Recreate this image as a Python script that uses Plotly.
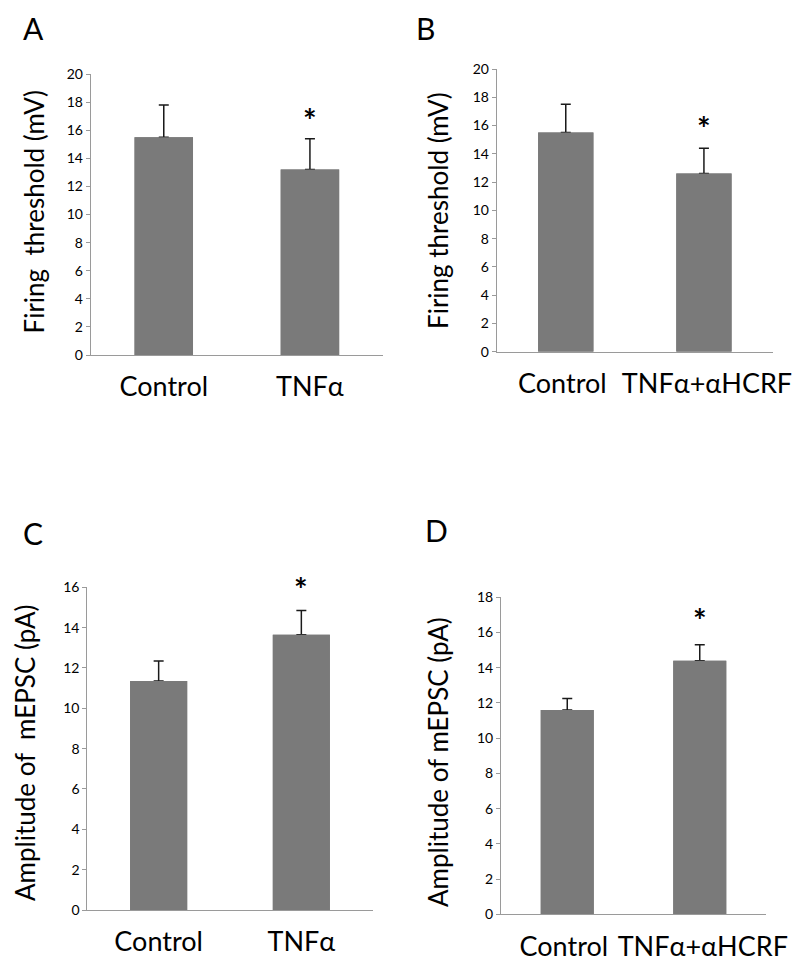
import plotly.graph_objects as go

# ---- data ----
cats_A = ["Control", "TNFα"]
mean_A = [15.5, 13.2]
err_A = [2.3, 2.2]
star_A = [None, 17.1]
labels_A = ["Control", "TNFα"]

cats_B = ["Control", "TNFα+αHCRF"]
mean_B = [15.5, 12.6]
err_B = [2.0, 1.8]
star_B = [None, 16.25]
labels_B = ["Control\u00a0", "\u00a0TNFα+αHCRF"]

cats_C = ["Control", "TNFα"]
mean_C = [11.35, 13.65]
err_C = [1.0, 1.2]
star_C = [None, 16.2]
labels_C = ["Control", "TNFα"]

cats_D = ["Control", "TNFα+αHCRF"]
mean_D = [11.6, 14.4]
err_D = [0.65, 0.9]
star_D = [None, 17.0]
labels_D = ["Control\u00a0", "\u00a0TNFα+αHCRF"]

ytitles = ["Firing\u00a0\u00a0threshold (mV)", "Firing threshold (mV)",
           "Amplitude of\u00a0\u00a0mEPSC (pA)", "Amplitude of mEPSC (pA)"]
letters = ["A", "B", "C", "D"]
yranges = [20, 20, 16, 18]

OFF = 8  # page body margin
W, H = 800 - OFF, 969 - OFF
FONT = "Lato"
BAR = "#7a7a7a"

# panel geometry in screen pixels: x0, x1, ytop, ybottom
geo = [(90.7, 383, 74, 355), (496.7, 773, 69, 351.7),
       (87.3, 372.7, 587.3, 910), (501, 766, 597.3, 914.3)]
title_pos = [(33, 212.5), (438, 211), (25, 753), (438, 762)]
letter_pos = [(33, 28), (425, 28), (33, 533), (437, 530)]

def px(x):
    return (x - OFF) / W

def py(y):
    return 1 - (y - OFF) / H

panels = [(cats_A, mean_A, err_A, star_A, labels_A), (cats_B, mean_B, err_B, star_B, labels_B),
          (cats_C, mean_C, err_C, star_C, labels_C), (cats_D, mean_D, err_D, star_D, labels_D)]

fig = go.Figure()
annotations = []
for i, (cats, mean, err, star, labels) in enumerate(panels):
    n = "" if i == 0 else str(i + 1)
    # bars carrying the error bars
    fig.add_trace(go.Bar(
        x=cats, y=mean, width=0.4, marker=dict(color=BAR, line=dict(width=0)),
        error_y=dict(type="data", array=err, arrayminus=[0] * len(err),
                     symmetric=False, color="#1a1a1a", thickness=1.5, width=5),
        xaxis="x" + n, yaxis="y" + n, showlegend=False, hoverinfo="skip"))
    # same bars on top, hiding the lower whisker inside the bar
    fig.add_trace(go.Bar(
        x=cats, y=mean, width=0.4, marker=dict(color=BAR, line=dict(width=0)),
        xaxis="x" + n, yaxis="y" + n, showlegend=False))
    x0, x1, yt, yb = geo[i]
    fig.layout["xaxis" + n] = dict(
        domain=[px(x0), px(x1)], anchor="y" + n, showline=True, linecolor="#9a9a9a",
        linewidth=1, ticks="", showgrid=False, range=[-0.5, 1.5], automargin=False,
        tickmode="array", tickvals=cats, ticktext=labels, tickangle=0,
        tickfont=dict(family=FONT, size=27, color="#000"), ticklabelstandoff=8)
    fig.layout["yaxis" + n] = dict(
        domain=[py(yb), py(yt)], anchor="x" + n, range=[0, yranges[i]],
        dtick=2, showline=True, linecolor="#9a9a9a", linewidth=1, ticks="outside",
        ticklen=4, tickcolor="#9a9a9a", showgrid=False, zeroline=False, automargin=False,
        tickfont=dict(family=FONT, size=14, color="#000"))
    for c, s in zip(cats, star):
        if s is not None:
            annotations.append(dict(x=c, y=s / yranges[i], xref="x" + n, yref="y" + n + " domain",
                                    text="<b>*</b>", showarrow=False, xanchor="center",
                                    yanchor="middle", yshift=-6,
                                    font=dict(family=FONT, size=32, color="#000")))
    tx, ty = title_pos[i]
    annotations.append(dict(x=px(tx), y=py(ty), xref="paper", yref="paper",
                            xanchor="center", yanchor="middle",
                            text=ytitles[i], textangle=-90, showarrow=False,
                            font=dict(family=FONT, size=26, color="#000")))
    lx, ly = letter_pos[i]
    annotations.append(dict(x=px(lx), y=py(ly), xref="paper", yref="paper",
                            xanchor="center", yanchor="middle",
                            text=letters[i], showarrow=False,
                            font=dict(family=FONT, size=30, color="#000")))

fig.update_layout(width=W, height=H, margin=dict(l=0, r=0, t=0, b=0, pad=0),
                  paper_bgcolor="white", plot_bgcolor="white", barmode="overlay",
                  annotations=annotations)
fig.write_html("out.html")
